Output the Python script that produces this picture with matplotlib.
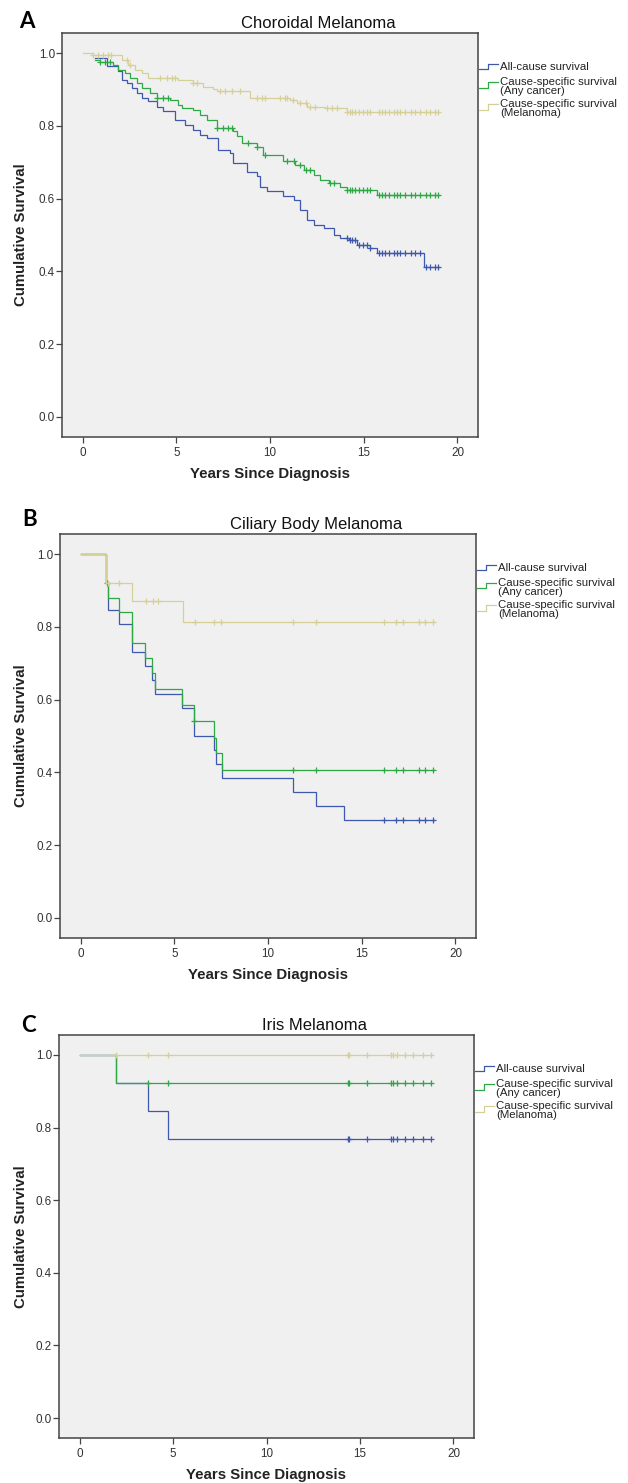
import numpy as np
import matplotlib
matplotlib.use("Agg")
import matplotlib.pyplot as plt
from matplotlib.lines import Line2D

# ---- data ----
series_names = ["All-cause survival", "Cause-specific survival", "Cause-specific survival"]
series_sub = [None, "(Any cancer)", "(Melanoma)"]
panel_titles = ["Choroidal Melanoma", "Ciliary Body Melanoma", "Iris Melanoma"]
panel_letters = ["A", "B", "C"]
x_ticks = [0, 5, 10, 15, 20]
y_ticks = [0.0, 0.2, 0.4, 0.6, 0.8, 1.0]

# panel A : choroidal
a_all_t = [0.65, 1.28, 1.9, 2.08, 2.35, 2.61, 2.88, 3.15, 3.5, 3.95, 4.3, 4.93, 5.47, 5.9, 6.27, 6.63,
           7.25, 7.87, 8.05, 8.77, 9.3, 9.48, 9.83, 10.72, 11.26, 11.6, 11.97, 12.33, 12.86, 13.4,
           13.75, 14.2, 14.65, 15.36, 15.72, 18.2, 19.04]
a_all_s = [0.985, 0.963, 0.95, 0.927, 0.918, 0.904, 0.89, 0.876, 0.867, 0.853, 0.84, 0.817, 0.803, 0.789, 0.775, 0.766,
           0.734, 0.725, 0.697, 0.674, 0.661, 0.633, 0.621, 0.606, 0.596, 0.569, 0.541, 0.528, 0.518, 0.5,
           0.491, 0.486, 0.473, 0.464, 0.451, 0.413, 0.413]
a_any_t = [0.65, 0.92, 1.63, 1.9, 2.26, 2.52, 2.88, 3.15, 3.6, 3.95, 4.66, 5.1, 5.29, 5.9, 6.27, 6.63, 7.16,
           8.05, 8.23, 8.5, 9.3, 9.65, 10.72, 11.35, 11.79, 12.33, 12.68, 13.13, 13.75, 14.11, 15.72, 19.04]
a_any_s = [0.98, 0.974, 0.968, 0.954, 0.945, 0.931, 0.918, 0.904, 0.89, 0.876, 0.872, 0.858, 0.849, 0.844, 0.83, 0.817, 0.794,
           0.785, 0.771, 0.753, 0.743, 0.72, 0.702, 0.693, 0.679, 0.665, 0.652, 0.642, 0.631, 0.624, 0.61, 0.61]
a_mel_t = [0.0, 0.56, 2.08, 2.43, 2.79, 3.15, 3.5, 5.1, 5.9, 6.44, 6.98, 7.16, 8.94, 11.08, 11.44, 11.97,
           12.95, 14.11, 19.04]
a_mel_s = [1.0, 0.995, 0.982, 0.968, 0.954, 0.945, 0.931, 0.925, 0.918, 0.908, 0.9, 0.895, 0.876, 0.872, 0.863, 0.853,
           0.849, 0.839, 0.839]
a_late_cens = [14.11, 14.25, 14.38, 14.56, 14.73, 14.97, 15.18, 15.36, 15.8, 15.98, 16.16, 16.34, 16.6,
               16.79, 16.96, 17.22, 17.5, 17.75, 18.0, 18.35, 18.56, 18.78, 18.99]
a_any_cens = [0.92, 1.19, 1.45, 3.95, 4.3, 4.57, 7.16, 7.5, 7.75, 7.96, 8.85, 9.3, 9.74, 10.9, 11.26,
              11.6, 11.9, 12.15, 13.2, 13.4]
a_mel_cens = [0.56, 0.83, 1.1, 1.36, 1.54, 2.35, 2.52, 4.13, 4.49, 4.75, 4.93, 5.9, 6.09, 7.35, 7.6, 7.97,
              8.4, 9.3, 9.57, 9.74, 10.55, 10.8, 10.9, 11.25, 11.6, 11.9, 12.15, 12.4, 13.04, 13.3, 13.58]

# panel B : ciliary body
b_all_t = [0.0, 1.35, 1.46, 2.04, 2.74, 3.43, 3.82, 3.99, 5.42, 6.07, 7.1, 7.25, 7.57, 11.36, 12.56, 14.06, 18.85]
b_all_s = [1.0, 0.923, 0.846, 0.807, 0.731, 0.692, 0.654, 0.615, 0.577, 0.5, 0.462, 0.423, 0.385, 0.346, 0.308, 0.269, 0.269]
b_any_t = [0.0, 1.35, 1.46, 2.04, 2.74, 3.43, 3.82, 3.99, 5.42, 6.07, 7.1, 7.25, 7.57, 18.85]
b_any_s = [1.0, 0.92, 0.88, 0.84, 0.756, 0.713, 0.672, 0.63, 0.586, 0.541, 0.495, 0.452, 0.406, 0.406]
b_mel_t = [0.0, 1.35, 2.74, 5.47, 18.85]
b_mel_s = [1.0, 0.92, 0.872, 0.814, 0.814]
b_late_cens = [16.2, 16.85, 17.2, 18.07, 18.39, 18.82]
b_any_cens = [1.41, 6.07, 11.36, 12.54]
b_mel_cens = [1.46, 2.06, 3.49, 3.88, 4.14, 6.11, 7.14, 7.5, 11.36, 12.54]

# panel C : iris
c_all_t = [0.0, 1.95, 3.64, 4.71, 18.78]
c_all_s = [1.0, 0.923, 0.846, 0.769, 0.769]
c_any_t = [0.0, 1.95, 18.78]
c_any_s = [1.0, 0.923, 0.923]
c_mel_t = [0.0, 18.78]
c_mel_s = [1.0, 1.0]
c_late_cens = [14.35, 14.44, 15.4, 16.64, 16.79, 16.96, 17.39, 17.82, 18.35, 18.78]
c_any_cens = [3.64, 4.71]
c_mel_cens = [1.95, 3.64, 4.71]

# ---- layout (pixels) ----
W, H = 628, 1483
colors = ["#3E58AC", "#2EA845", "#D6CF98"]
boxes = [(62, 33, 478, 437), (60, 534, 476, 938), (59, 1035, 474, 1438)]
letter_xy = [(27, 22), (30, 520), (28, 1025)]
title_xy = [(318, 23), (316, 525), (314, 1025)]
NARROW = ["Liberation Sans Narrow", "Liberation Sans", "DejaVu Sans"]


def fx(x):
    return x / W


def fy(y):
    return 1 - y / H


def surv_at(t, s, ct):
    idx = np.searchsorted(t, ct, side="right") - 1
    return np.asarray(s)[idx]


def draw_curve(ax, t, s, cens, color):
    ax.step(t, s, where="post", color=color, lw=0.9, solid_joinstyle="miter")
    ct = np.array(sorted(cens))
    ax.plot(ct, surv_at(t, s, ct), ls="none", marker="+", ms=5, mew=0.9, color=color)


def draw_legend(fig, box):
    l, top, r, b = box
    tx = r + 22
    rows = [(top + 34, None), (top + 49, top + 58), (top + 71, top + 80)]
    for i, (y1, y2) in enumerate(rows):
        if y2 is None:
            hi, lo = y1 - 3.5, y1 + 1.5
        else:
            hi, lo = y1 - 0.5, y1 + 5.5
        xs = [r + 1, r + 10, r + 10, r + 20]
        ys = [lo, lo, hi, hi]
        fig.add_artist(Line2D([fx(v) for v in xs], [fy(v) for v in ys], color=colors[i], lw=0.9,
                              transform=fig.transFigure))
        fig.text(fx(tx), fy(y1), series_names[i], fontsize=8.2, family=NARROW,
                 va="center", ha="left", color="#222222")
        if y2 is not None:
            fig.text(fx(tx), fy(y2), series_sub[i], fontsize=8.2, family=NARROW,
                     va="center", ha="left", color="#222222")


if __name__ == "__main__":
    fig = plt.figure(figsize=(W / 100, H / 100), dpi=100)

    data = [
        [(a_all_t, a_all_s, a_late_cens), (a_any_t, a_any_s, a_any_cens + a_late_cens),
         (a_mel_t, a_mel_s, a_mel_cens + a_late_cens)],
        [(b_all_t, b_all_s, b_late_cens), (b_any_t, b_any_s, b_any_cens + b_late_cens),
         (b_mel_t, b_mel_s, b_mel_cens + b_late_cens)],
        [(c_all_t, c_all_s, c_late_cens), (c_any_t, c_any_s, c_any_cens + c_late_cens),
         (c_mel_t, c_mel_s, c_mel_cens + c_late_cens)],
    ]

    for p in range(3):
        l, top, r, b = boxes[p]
        ax = fig.add_axes([fx(l), fy(b), (r - l) / W, (b - top) / H])
        ax.set_facecolor("#F0F0F0")
        for k, (t, s, cens) in enumerate(data[p]):
            draw_curve(ax, t, s, cens, colors[k])
        ax.set_xlim(-1.1, 21.1)
        ax.set_ylim(-0.055, 1.055)
        ax.set_xticks(x_ticks)
        ax.set_yticks(y_ticks)
        ax.set_yticklabels(["%.1f" % v for v in y_ticks])
        for sp in ax.spines.values():
            sp.set_color("#444444")
            sp.set_linewidth(1.1)
        ax.tick_params(direction="out", length=4, width=0.9, color="#444444", labelcolor="#333333",
                       labelsize=8.4)
        for lab in ax.get_xticklabels() + ax.get_yticklabels():
            lab.set_family(NARROW)
        ax.tick_params(axis="x", pad=3)
        ax.tick_params(axis="y", pad=1)

        cx = (l + r) / 2
        fig.text(fx(cx), fy(b + 37), "Years Since Diagnosis", fontsize=10.8, fontweight="bold",
                 family="Liberation Sans", ha="center", va="center", color="#222222")
        fig.text(fx(21), fy((top + b) / 2), "Cumulative Survival", fontsize=10.8, fontweight="bold",
                 family="Liberation Sans", ha="center", va="center", rotation=90, color="#222222")
        fig.text(fx(title_xy[p][0]), fy(title_xy[p][1]), panel_titles[p], fontsize=12,
                 family="Liberation Sans", ha="center", va="center", color="#111111")
        fig.text(fx(letter_xy[p][0]), fy(letter_xy[p][1]), panel_letters[p], fontsize=16,
                 fontweight="bold", family="Lato", ha="center", va="center", color="black")
        draw_legend(fig, boxes[p])

    fig.savefig("out.png", dpi=100)
